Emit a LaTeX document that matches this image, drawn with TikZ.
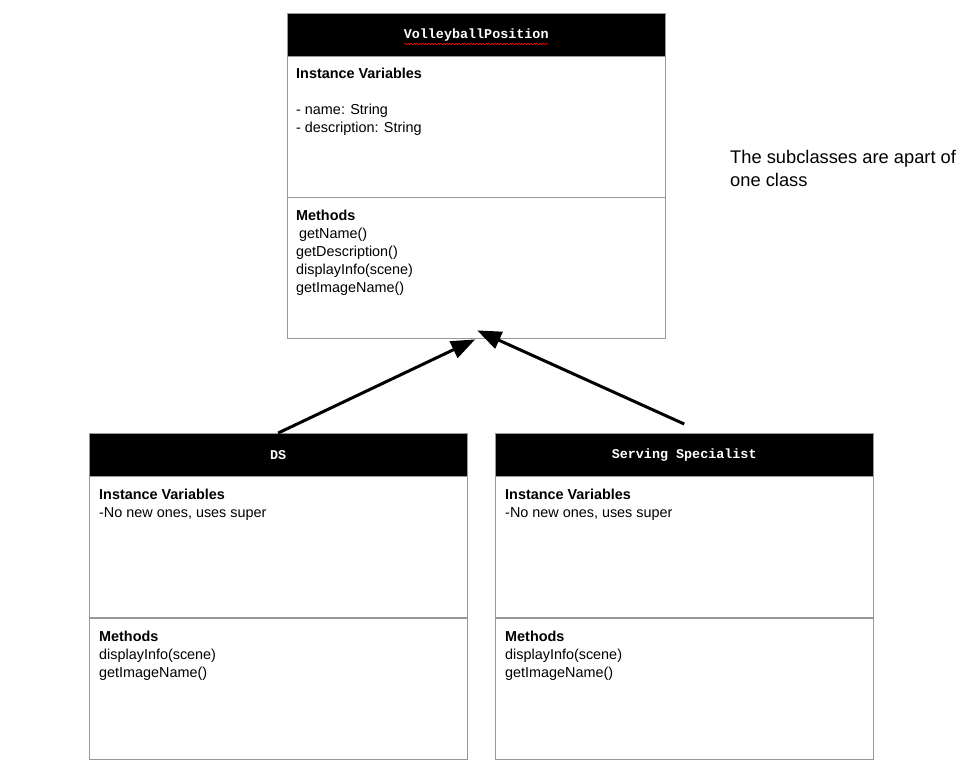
\documentclass[tikz,border=0pt]{standalone}
\usepackage{fontspec}
\setmainfont{Liberation Sans}
\setmonofont{Liberation Mono}
\usetikzlibrary{calc,arrows.meta,decorations.pathmorphing}
\definecolor{boxgray}{RGB}{150,152,156}
\tikzset{
  head/.style={draw=boxgray, fill=black, anchor=north west, minimum width=378pt, minimum height=43pt, inner sep=0pt, text=white, font=\ttfamily\bfseries\fontsize{13.4}{16}\selectfont},
  part/.style={draw=boxgray, fill=white, anchor=north west, minimum width=378pt, minimum height=141pt, inner sep=0pt},
  txt/.style={anchor=north west, align=left, inner sep=0pt, font=\fontsize{14.4}{18}\selectfont},
  inherit/.style={line width=3pt, -{Triangle[length=24pt,width=18pt]}}
}

\begin{document}
\begin{tikzpicture}[x=1pt,y=-1pt]
    \useasboundingbox (0,0) rectangle (980,771);
    % superclass
    \node[head] (vph) at (287,13) {VolleyballPosition};
    \node[part] (vpv) at (287,56) {};
    \node[part] (vpm) at (287,197) {};
    \draw[red, line width=0.6pt, decorate, decoration={snake, amplitude=0.8pt, segment length=3pt}] (404,44) -- (548,44);
    \node[txt] (vpvt) at (296,68) {\textbf{Instance Variables}\\[18pt]- name: String\\- description: String};
    \node[txt] (vpmt) at (296,210) {\textbf{Methods}\\\hspace{3pt}getName()\\getDescription()\\displayInfo(scene)\\getImageName()};
    % subclasses
    \node[head] (dsh) at (89,433) {DS};
    \node[part] (dsv) at (89,476) {};
    \node[part] (dsm) at (89,618) {};
    \node[head] (ssh) at (495,433) {Serving Specialist};
    \node[part] (ssv) at (495,476) {};
    \node[part] (ssm) at (495,618) {};
    \foreach \c/\x in {ds/99,ss/505}{
      \node[txt] (\c vt) at (\x,489) {\textbf{Instance Variables}\\-No new ones, uses super};
      \node[txt] (\c mt) at (\x,631) {\textbf{Methods}\\displayInfo(scene)\\getImageName()};
    }
    \node[anchor=north west, align=left, inner sep=0pt, font=\fontsize{18.3}{23}\selectfont] (note) at (730,150) {The subclasses are apart of\\one class};
    % inheritance arrows
    \coordinate (ssTop) at ($(ssh.north)+(0,-9)$);
    \coordinate (vpTip) at ($(vpm.south)+(1,-8)$);
    \draw[inherit] (dsh.north) -- ($(vpm.south)+(-1,1)$);
    \draw[inherit] (ssTop) -- (vpTip);
\end{tikzpicture}
\end{document}
